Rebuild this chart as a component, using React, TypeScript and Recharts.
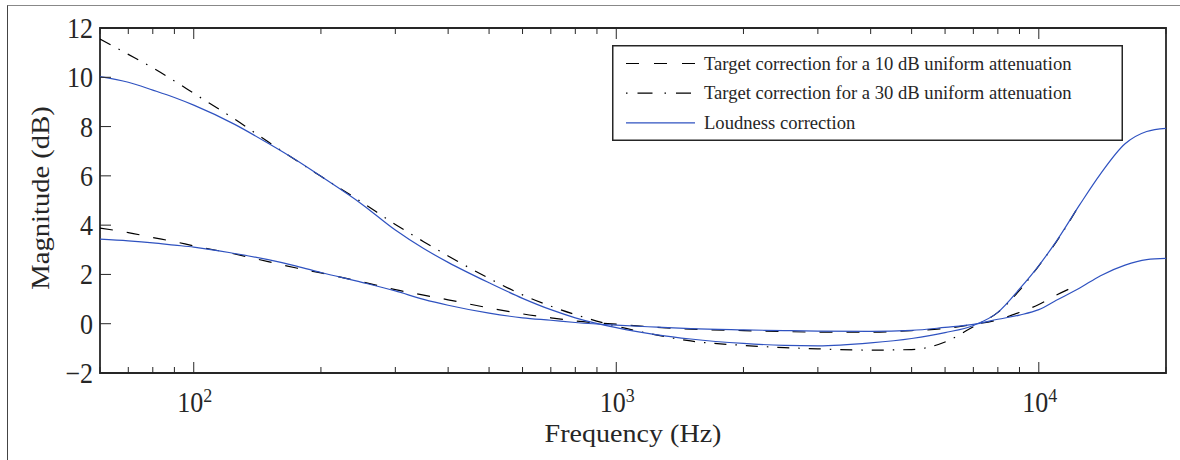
import React from 'react';
import { LineChart, Line, XAxis, YAxis, Legend, Label, ReferenceArea } from 'recharts';

const frequencies = [60, 70, 80, 90, 100, 125, 150, 175, 200, 250, 300, 350, 400, 500, 600, 700, 800, 1000, 1250, 1500, 2000, 2500, 3000, 4000, 5000, 6000, 7000, 8000, 9000, 10000, 11000, 12500, 14000, 16000, 18000, 20000];

const target10 = [3.88, 3.70, 3.50, 3.33, 3.16, 2.83, 2.52, 2.26, 2.06, 1.70, 1.38, 1.16, 0.97, 0.64, 0.40, 0.24, 0.11, -0.02, -0.15, -0.22, -0.28, -0.32, -0.34, -0.34, -0.28, -0.19, -0.03, 0.16, 0.46, 0.78, 1.16, 1.60, null, null, null, null];

const target30 = [11.55, 10.93, 10.38, 9.85, 9.35, 8.30, 7.38, 6.62, 5.98, 4.93, 4.03, 3.33, 2.75, 1.84, 1.17, 0.71, 0.37, -0.10, -0.46, -0.70, -0.88, -0.97, -1.02, -1.07, -1.05, -0.74, -0.12, 0.46, 1.35, 2.35, 3.32, 4.85, null, null, null, null];

const loudness10 = [3.43, 3.36, 3.28, 3.19, 3.11, 2.85, 2.60, 2.34, 2.08, 1.68, 1.33, 0.99, 0.75, 0.43, 0.24, 0.14, 0.05, -0.06, -0.14, -0.20, -0.25, -0.28, -0.30, -0.31, -0.27, -0.15, -0.03, 0.18, 0.35, 0.57, 0.95, 1.45, 1.95, 2.38, 2.60, 2.65];

const loudness30 = [10.03, 9.80, 9.48, 9.18, 8.87, 8.09, 7.32, 6.63, 5.98, 4.85, 3.80, 3.05, 2.49, 1.66, 1.03, 0.57, 0.24, -0.16, -0.45, -0.62, -0.80, -0.88, -0.90, -0.78, -0.60, -0.36, -0.07, 0.46, 1.41, 2.36, 3.34, 4.83, 6.08, 7.30, 7.80, 7.93];

const xTicks = [60, 70, 80, 90, 100, 200, 300, 400, 500, 600, 700, 800, 900, 1000, 2000, 3000, 4000, 5000, 6000, 7000, 8000, 9000, 10000, 20000];
const xMajorTicks = [100, 1000, 10000];
const yTicks = [-2, 0, 2, 4, 6, 8, 10, 12];
const xDomain = [60, 20000];
const yDomain = [-2, 12];

const xLabel = 'Frequency (Hz)';
const yLabel = 'Magnitude (dB)';
const legendLabels = [
  'Target correction for a 10 dB uniform attenuation',
  'Target correction for a 30 dB uniform attenuation',
  'Loudness correction',
];

const data = frequencies.map((f, i) => ({
  f,
  t10: target10[i],
  t30: target30[i],
  l10: loudness10[i],
  l30: loudness30[i],
}));

const FONT = '"Liberation Serif", "Times New Roman", serif';
const INK = '#262626';
const BLUE = '#2f52c0';
const DASH = '13 14';
const DASHDOT = '12 9 1.5 9';
const SY = 1.1;

const fmtY = (v: number) => (v < 0 ? '\u2212' + Math.abs(v) : String(v));

const BottomTick = (props: any) => {
  const { x, y, payload } = props;
  const v = payload.value;
  const major = xMajorTicks.includes(v);
  const exp = Math.round(Math.log10(v));
  return (
    <g>
      <line x1={x} x2={x} y1={y} y2={y - (major ? 11 : 6)} stroke={INK} strokeWidth={1} />
      {major && (
        <text transform={`translate(${x + 1}, ${y + 39}) scale(1, ${SY})`} x={0} y={0} textAnchor="middle" fontFamily={FONT} fontSize={26} fill={INK}>
          10
          <tspan dy={-9} fontSize={18}>{exp}</tspan>
        </text>
      )}
    </g>
  );
};

const TopTick = (props: any) => {
  const { x, y, payload } = props;
  const major = xMajorTicks.includes(payload.value);
  return <line x1={x} x2={x} y1={y} y2={y + (major ? 11 : 6)} stroke={INK} strokeWidth={1} />;
};

const LeftTick = (props: any) => {
  const { x, y, payload } = props;
  return (
    <g>
      <line x1={x} x2={x + 11} y1={y} y2={y} stroke={INK} strokeWidth={1} />
      <text transform={`translate(${x - 7}, ${y + 10}) scale(1, ${SY})`} x={0} y={0} textAnchor="end" fontFamily={FONT} fontSize={26} fill={INK}>
        {fmtY(payload.value)}
      </text>
    </g>
  );
};

const RightTick = (props: any) => {
  const { x, y } = props;
  return <line x1={x} x2={x - 11} y1={y} y2={y} stroke={INK} strokeWidth={1} />;
};

const XLabelContent = (props: any) => {
  const vb = props.viewBox || { x: 100, y: 373, width: 1066 };
  const cx = vb.x + vb.width / 2;
  return (
    <text transform={`translate(${cx}, 442) scale(1.08, 1)`} x={0} y={0} textAnchor="middle" fontFamily={FONT} fontSize={26} fill={INK}>
      {xLabel}
    </text>
  );
};

const YLabelContent = () => {
  const cx = 40;
  const cy = 198;
  return (
    <text
      transform={`translate(${cx}, ${cy}) scale(1, ${SY}) rotate(-90)`}
      x={0}
      y={0}
      textAnchor="middle"
      dominantBaseline="central"
      fontFamily={FONT}
      fontSize={26}
      fill={INK}
    >
      {yLabel}
    </text>
  );
};

const legendStyles = [
  { stroke: '#000', dash: '13 15' },
  { stroke: '#000', dash: '1.5 10 15 12' },
  { stroke: BLUE, dash: undefined },
];

const LegendBox = () => (
  <svg width={511} height={96} style={{ display: 'block' }}>
    <rect x={0.75} y={0.75} width={509.5} height={94.5} fill="#fff" stroke={INK} strokeWidth={1.5} />
    {legendLabels.map((lab, i) => {
      const cy = 18.5 + i * 29.7;
      const s = legendStyles[i];
      return (
        <g key={lab}>
          <line x1={14} x2={83} y1={cy} y2={cy} stroke={s.stroke} strokeWidth={1.2} strokeDasharray={s.dash} />
          <text x={92} y={cy + 6} fontFamily={FONT} fontSize={18.6} fill={INK}>
            {lab}
          </text>
        </g>
      );
    })}
  </svg>
);

export default function App() {
  return (
    <div style={{ position: 'absolute', left: 0, top: 0, width: 1180, height: 460, background: '#fff', overflow: 'hidden' }}>
      <div style={{ position: 'absolute', left: 7, top: 5, width: 1180, height: 470, borderTop: '1px solid #888', borderLeft: '1px solid #444' }} />
      <LineChart width={1180} height={460} data={data} margin={{ top: 27, right: 13, bottom: 86, left: 0 }} style={{ position: 'absolute', left: 0, top: 0 }}>
        <XAxis
          dataKey="f"
          type="number"
          scale="log"
          domain={xDomain}
          allowDataOverflow
          ticks={xTicks}
          interval={0}
          height={1}
          tickSize={0}
          tickMargin={0}
          tickLine={false}
          tick={<BottomTick />}
          axisLine={false}
        >
          <Label content={<XLabelContent />} />
        </XAxis>
        <XAxis
          xAxisId="top"
          orientation="top"
          dataKey="f"
          type="number"
          scale="log"
          domain={xDomain}
          allowDataOverflow
          ticks={xTicks}
          interval={0}
          height={1}
          tickSize={0}
          tickMargin={0}
          tickLine={false}
          tick={<TopTick />}
          axisLine={false}
        />
        <YAxis
          type="number"
          domain={yDomain}
          ticks={yTicks}
          interval={0}
          width={100}
          tickSize={0}
          tickMargin={0}
          tickLine={false}
          tick={<LeftTick />}
          axisLine={false}
        >
          <Label content={<YLabelContent />} />
        </YAxis>
        <YAxis
          yAxisId="right"
          orientation="right"
          type="number"
          domain={yDomain}
          ticks={yTicks}
          interval={0}
          width={1}
          tickSize={0}
          tickMargin={0}
          tickLine={false}
          tick={<RightTick />}
          axisLine={false}
        />
        <Legend
          layout="vertical"
          align="center"
          verticalAlign="middle"
          wrapperStyle={{ left: 612, top: 45, width: 511, height: 96 }}
          content={() => <LegendBox />}
        />
        <Line type="monotone" dataKey="t10" stroke="#000" strokeWidth={1.2} strokeDasharray={DASH} dot={false} isAnimationActive={false} />
        <Line type="monotone" dataKey="t30" stroke="#000" strokeWidth={1.2} strokeDasharray={DASHDOT} dot={false} isAnimationActive={false} />
        <Line type="monotone" dataKey="l10" stroke={BLUE} strokeWidth={1.2} dot={false} isAnimationActive={false} />
        <Line type="monotone" dataKey="l30" stroke={BLUE} strokeWidth={1.2} dot={false} isAnimationActive={false} />
        <ReferenceArea x1={xDomain[0]} x2={xDomain[1]} y1={yDomain[0]} y2={yDomain[1]} fill="none" fillOpacity={0} stroke={INK} strokeWidth={1.8} ifOverflow="visible" />
      </LineChart>
    </div>
  );
}
